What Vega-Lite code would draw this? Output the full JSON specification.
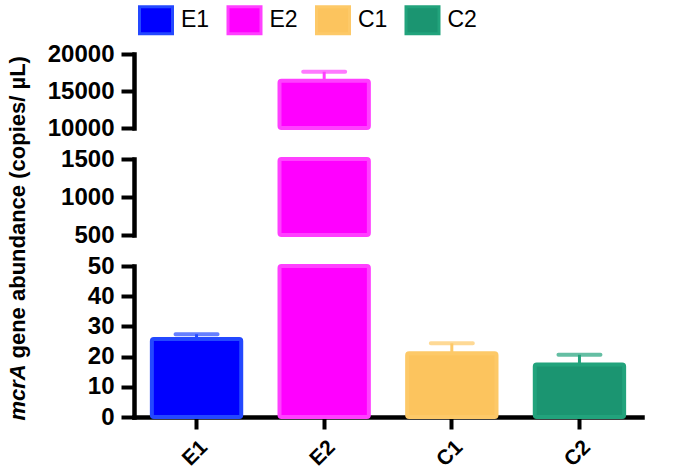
{
  "$schema": "https://vega.github.io/schema/vega-lite/v6.json",
  "data": {"values": [
    {"group": "E1", "value": 25.8, "upper": 27.4},
    {"group": "E2", "value": 16400, "upper": 17600},
    {"group": "C1", "value": 21.1, "upper": 24.4},
    {"group": "C2", "value": 17.4, "upper": 20.6}
  ]},
  "bounds": "flush",
  "spacing": 31,
  "padding": {"left": 5, "top": 2, "right": 5, "bottom": 0},
  "config": {
    "view": {"stroke": null},
    "font": "Liberation Sans",
    "axis": {
      "domainColor": "black", "domainWidth": 4.5, "domainCap": "square",
      "tickColor": "black", "tickWidth": 4,
      "labelColor": "black", "labelFont": "Liberation Sans", "labelFontWeight": "bold",
      "grid": false,
      "titleColor": "black", "titleFont": "Liberation Sans", "titleFontWeight": "bold"
    },
    "legend": {
      "orient": "none", "legendX": 4, "legendY": -52, "direction": "horizontal",
      "title": null, "padding": 0,
      "symbolType": "M-1,-0.818L1,-0.818L1,0.818L-1,0.818Z", "symbolSize": 1089,
      "symbolStrokeWidth": 3, "symbolOpacity": 1,
      "labelFont": "Liberation Sans", "labelFontSize": 23, "labelColor": "black",
      "labelOffset": 7, "columnPadding": 11.5
    }
  },
  "resolve": {"scale": {"x": "shared", "color": "shared", "stroke": "shared"}},
  "vconcat": [
    {
      "width": 508, "height": 74,
      "transform": [{"filter": "datum.group == 'E2'"}],
      "encoding": {
        "x": {"field": "group", "type": "nominal", "sort": ["E1", "E2", "C1", "C2"],
          "scale": {"domain": ["E1", "E2", "C1", "C2"], "paddingInner": 0.3, "paddingOuter": 0.14}, "axis": null},
        "y": {"field": "value", "type": "quantitative", "scale": {"domain": [10000, 20000], "zero": false, "clamp": true},
          "axis": {"values": [10000, 15000, 20000], "format": "d", "title": null,
            "labelFontSize": 24, "labelPadding": 7, "tickSize": 13, "labelOverlap": false, "labelFlush": false, "labelBound": false}}
      },
      "layer": [
        {"mark": {"type": "bar"},
         "encoding": {
           "color": {"field": "group", "type": "nominal", "scale": {"domain": ["E1", "E2", "C1", "C2"], "range": ["#0000ff", "#ff00ff", "#fcc45e", "#1b9571"]}}
         }},
        {"mark": {"type": "bar", "filled": false, "clip": true, "strokeWidth": 4, "cornerRadius": 2},
         "encoding": {
           "stroke": {"field": "group", "type": "nominal", "scale": {"domain": ["E1", "E2", "C1", "C2"], "range": ["#2448ff", "#ff40ff", "#fdc968", "#22a37c"]}}
         }},
        {"mark": {"type": "rule", "strokeWidth": 3},
         "encoding": {
           "y2": {"field": "upper"},
           "stroke": {"field": "group", "type": "nominal"}
         }},
        {"mark": {"type": "tick", "filled": false, "thickness": 1, "size": 43, "strokeWidth": 3, "cornerRadius": 1},
         "encoding": {
           "y": {"field": "upper", "type": "quantitative"},
           "stroke": {"field": "group", "type": "nominal"}
         }}
      ]
    },
    {
      "width": 508, "height": 76,
      "transform": [{"filter": "datum.group == 'E2'"}],
      "encoding": {
        "x": {"field": "group", "type": "nominal", "sort": ["E1", "E2", "C1", "C2"],
          "scale": {"domain": ["E1", "E2", "C1", "C2"], "paddingInner": 0.3, "paddingOuter": 0.14}, "axis": null},
        "y": {"field": "value", "type": "quantitative", "scale": {"domain": [500, 1500], "zero": false, "clamp": true},
          "axis": {"values": [500, 1000, 1500], "format": "d",
            "labelFontSize": 24, "labelPadding": 7, "tickSize": 13, "labelOverlap": false, "labelFlush": false, "labelBound": false,
            "title": "gene abundance (copies/ µL)", "titleFontSize": 22, "titleAlign": "left", "titleBaseline": "alphabetic",
            "titleAngle": 270, "titleX": -110, "titleY": 199}}
      },
      "layer": [
        {"mark": {"type": "bar"},
         "encoding": {"color": {"field": "group", "type": "nominal"}}},
        {"mark": {"type": "bar", "filled": false, "clip": true, "strokeWidth": 4, "cornerRadius": 2},
         "encoding": {"stroke": {"field": "group", "type": "nominal"}}}
      ]
    },
    {
      "width": 508, "height": 151,
      "encoding": {
        "x": {"field": "group", "type": "nominal", "sort": ["E1", "E2", "C1", "C2"],
          "scale": {"domain": ["E1", "E2", "C1", "C2"], "paddingInner": 0.3, "paddingOuter": 0.14},
          "axis": {"title": null, "labelAngle": -45, "labelFontSize": 21, "tickSize": 12, "labelPadding": 7, "labelDx": -5}},
        "y": {"field": "value", "type": "quantitative", "scale": {"domain": [0, 50], "clamp": true},
          "axis": {"values": [0, 10, 20, 30, 40, 50], "format": "d",
            "labelFontSize": 24, "labelPadding": 7, "tickSize": 13, "labelOverlap": false, "labelFlush": false, "labelBound": false,
            "title": "mcrA", "titleFontSize": 22, "titleFontStyle": "italic", "titleAlign": "left", "titleBaseline": "alphabetic",
            "titleAngle": 270, "titleX": -110, "titleY": 154}}
      },
      "layer": [
        {"mark": {"type": "bar"},
         "encoding": {"color": {"field": "group", "type": "nominal"}}},
        {"mark": {"type": "bar", "filled": false, "clip": true, "strokeWidth": 4, "cornerRadius": 2},
         "encoding": {"stroke": {"field": "group", "type": "nominal"}}},
        {"transform": [{"filter": "datum.group != 'E2'"}],
         "layer": [
          {"mark": {"type": "rule", "strokeWidth": 3},
           "encoding": {
             "y2": {"field": "upper"},
             "stroke": {"field": "group", "type": "nominal"}
           }},
          {"mark": {"type": "tick", "filled": false, "thickness": 1, "size": 43, "strokeWidth": 3, "cornerRadius": 1},
           "encoding": {
             "y": {"field": "upper", "type": "quantitative"},
             "stroke": {"field": "group", "type": "nominal"}
           }}
         ]}
      ]
    }
  ]
}
